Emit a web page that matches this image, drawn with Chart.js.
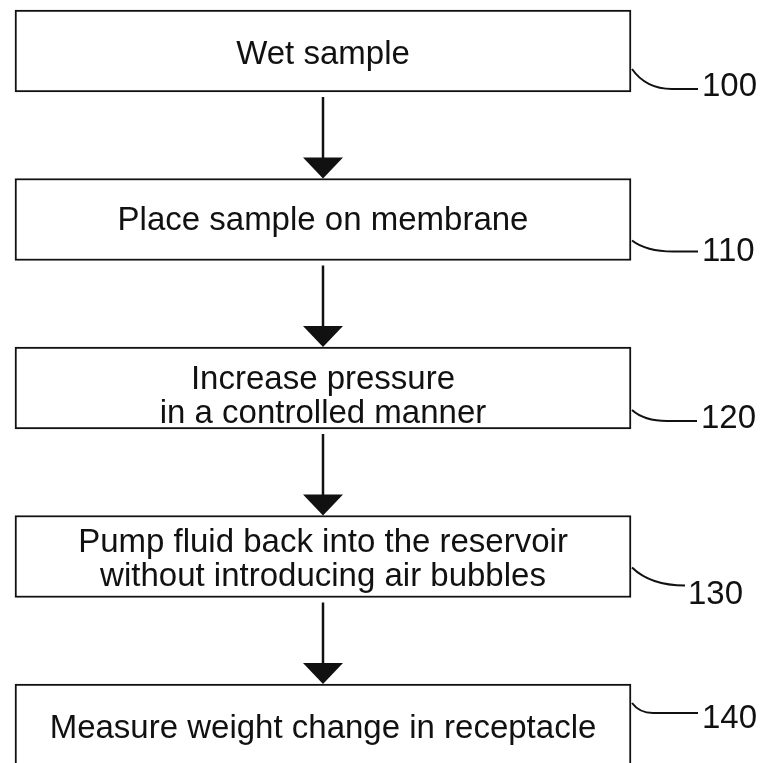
<!DOCTYPE html>
<html>
<head>
<meta charset="utf-8">
<title>Membrane test flow chart</title>
<script src="https://cdn.jsdelivr.net/npm/chart.js@4.4.1/dist/chart.umd.min.js"></script>
<style>
  html, body { margin: 0; padding: 0; background: #fff; }
  #chart { display: block; }
</style>
</head>
<body>
<canvas id="chart" width="760" height="763"></canvas>
<script>
// reference numerals, one per step (used as the category labels)
const refNumbers = ['100', '110', '120', '130', '140'];

// text shown in each box, line by line
const stepText = [
  ['Wet sample'],
  ['Place sample on membrane'],
  ['Increase pressure', 'in a controlled manner'],
  ['Pump fluid back into the reservoir', 'without introducing air bubbles'],
  ['Measure weight change in receptacle']
];

// drawing constants
const INK = '#111';
const FONT = '33px "Liberation Sans", Arial, Helvetica, sans-serif';
const BOX_SPAN = [15, 631];   // box left/right on the hidden x scale (0..760)
const LINE_GAP = 34;
const TEXT_SHIFT = [0, -3, 5, -1, 0]; // small per-box nudge of the text block

// leader line + numeral placement, relative to each box's centre / right edge
const callouts = [
  { startDy: 18, curveDx: 41, lineDy: 38, textX: 702, baseDy: 45 },
  { startDy: 21, curveDx: 42, lineDy: 32, textX: 702, baseDy: 41 },
  { startDy: 22, curveDx: 36, lineDy: 33, textX: 701, baseDy: 40 },
  { startDy: 11, curveDx: 54, lineDy: 29, textX: 688, baseDy: 47 },
  { startDy: -22, curveDx: 22, lineDy: -12, textX: 702, baseDy: 3 }
];

const flowPlugin = {
  id: 'flow',
  afterDatasetsDraw(chart) {
    const { ctx } = chart;
    const bars = chart.getDatasetMeta(0).data;
    const boxes = bars.map(bar => {
      const p = bar.getProps(['x', 'y', 'base', 'height'], true);
      return {
        left: Math.min(p.x, p.base),
        right: Math.max(p.x, p.base),
        cy: p.y,
        top: p.y - p.height / 2,
        bottom: p.y + p.height / 2
      };
    });

    ctx.save();
    ctx.fillStyle = INK;
    ctx.strokeStyle = INK;
    ctx.font = FONT;

    // box text
    ctx.textAlign = 'center';
    ctx.textBaseline = 'alphabetic';
    boxes.forEach((b, i) => {
      const lines = stepText[i];
      const cx = (b.left + b.right) / 2;
      lines.forEach((line, k) => {
        const y = b.cy + 13 + TEXT_SHIFT[i] + (k - (lines.length - 1) / 2) * LINE_GAP;
        ctx.fillText(line, cx, y);
      });
    });

    // arrows between boxes
    ctx.lineWidth = 2.5;
    for (let i = 0; i < boxes.length - 1; i++) {
      const a = boxes[i];
      const b = boxes[i + 1];
      const cx = (a.left + a.right) / 2;
      const tip = b.top;
      ctx.beginPath();
      ctx.moveTo(cx, a.bottom + 5);
      ctx.lineTo(cx, tip - 20);
      ctx.stroke();
      ctx.beginPath();
      ctx.moveTo(cx - 20, tip - 21);
      ctx.lineTo(cx + 20, tip - 21);
      ctx.lineTo(cx, tip);
      ctx.closePath();
      ctx.fill();
    }

    // leader lines and reference numerals
    ctx.lineWidth = 2;
    ctx.textAlign = 'left';
    boxes.forEach((b, i) => {
      const c = callouts[i];
      const sx = b.right + 1;
      const sy = b.cy + c.startDy;
      const ex = b.right + c.curveDx;
      const ey = b.cy + c.lineDy;
      ctx.beginPath();
      ctx.moveTo(sx, sy);
      ctx.quadraticCurveTo(sx + (ex - sx) * 0.35, ey, ex, ey);
      if (c.textX - 4 > ex) ctx.lineTo(c.textX - 4, ey);
      ctx.stroke();
      ctx.fillText(refNumbers[i], c.textX, b.cy + c.baseDy);
    });
    ctx.restore();
  }
};

new Chart(document.getElementById('chart'), {
  type: 'bar',
  data: {
    labels: refNumbers,
    datasets: [
      {
        data: stepText.map(() => BOX_SPAN),
        backgroundColor: '#fff',
        borderColor: INK,
        borderWidth: 2,
        borderSkipped: false,
        barThickness: 82,
        clip: false
      }
    ]
  },
  plugins: [flowPlugin],
  options: {
    indexAxis: 'y',
    responsive: false,
    animation: false,
    layout: { padding: { top: 51, bottom: 38, left: 0, right: 0 } },
    scales: {
      x: { type: 'linear', min: 0, max: 760, display: false },
      y: { type: 'category', offset: false, display: false, grid: { display: false } }
    },
    plugins: {
      legend: { display: false },
      tooltip: { enabled: false }
    }
  }
});
</script>
</body>
</html>
